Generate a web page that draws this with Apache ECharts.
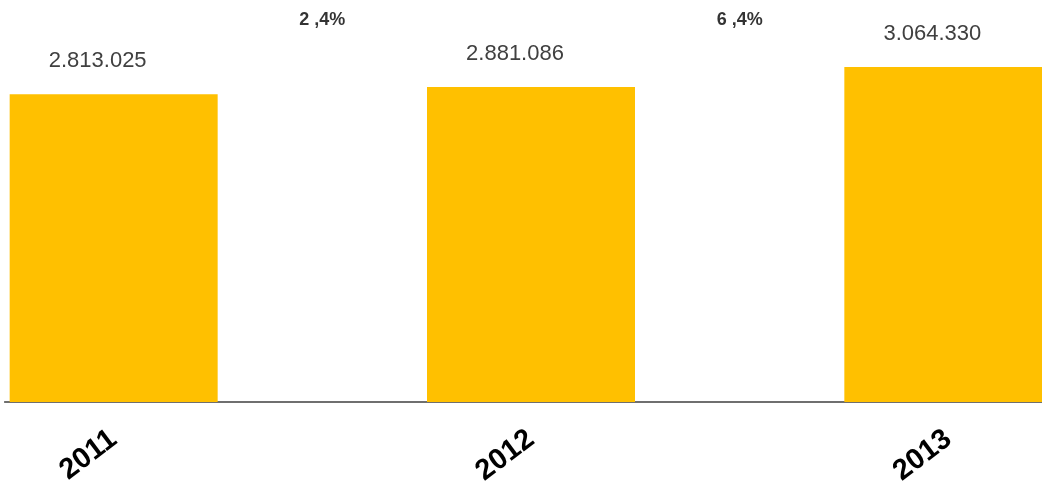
<!DOCTYPE html>
<html>
<head>
<meta charset="utf-8">
<script src="https://cdn.jsdelivr.net/npm/echarts@6/dist/echarts.min.js"></script>
<style>
html,body{margin:0;padding:0;background:#fff;overflow:hidden;width:1042px;height:481px;}
#chart{width:1252px;height:481px;margin-left:-94.6px;}
</style>
</head>
<body>
<div id="chart"></div>
<script>
const categories = ['2011', '2012', '2013'];
const values = [2813025, 2881086, 3064330];
const valueLabels = ['2.813.025', '2.881.086', '3.064.330'];
const growthLabels = ['2 ,4%', '6 ,4%'];
const growthBetween = [1, 2];

const yMax = 3600000;
const chart = echarts.init(document.getElementById('chart'));
const option = {
  animation: false,
  backgroundColor: '#ffffff',
  grid: [
    { left: 0, right: 0, top: 8.3, bottom: 79, containLabel: false, outerBoundsMode: 'none' },
    { left: 99.6, right: 115, top: 8.3, bottom: 79, containLabel: false, outerBoundsMode: 'none' }
  ],
  xAxis: [
    {
      type: 'category', gridIndex: 0, data: categories,
      axisLine: { show: false },
      axisTick: { show: false },
      axisLabel: {
        rotate: 37, margin: 34, color: '#000', fontSize: 29, fontWeight: 'bold',
        fontFamily: 'Liberation Sans, Arial, sans-serif'
      }
    },
    {
      type: 'value', gridIndex: 0, min: 0, max: categories.length,
      show: false
    },
    {
      type: 'category', gridIndex: 1, data: [''],
      axisLine: { show: true, lineStyle: { color: '#404040', width: 1.5 } },
      axisTick: { show: false }, axisLabel: { show: false }
    }
  ],
  yAxis: [
    { type: 'value', gridIndex: 0, min: 0, max: yMax, show: false, splitLine: { show: false } },
    { type: 'value', gridIndex: 1, min: 0, max: yMax, show: false, splitLine: { show: false } }
  ],
  series: [
    {
      type: 'bar', xAxisIndex: 0, yAxisIndex: 0,
      data: values, barWidth: 208,
      itemStyle: { color: '#FFC000' },
      label: {
        show: true, position: 'top', distance: 22, offset: [-16, 0],
        formatter: p => valueLabels[p.dataIndex],
        color: '#404040', fontSize: 22,
        fontFamily: 'Liberation Sans, Arial, sans-serif'
      }
    },
    {
      type: 'scatter', xAxisIndex: 1, yAxisIndex: 0,
      symbolSize: 0, clip: false,
      data: growthBetween.map((x, i) => [x, yMax * 0.9703, growthLabels[i]]),
      label: {
        show: true, position: 'inside',
        formatter: p => p.data[2],
        color: '#000', fontSize: 18, fontWeight: 'bold',
        textBorderWidth: 0,
        fontFamily: 'Liberation Sans, Arial, sans-serif'
      }
    }
  ]
};
chart.setOption(option);
</script>
</body>
</html>
